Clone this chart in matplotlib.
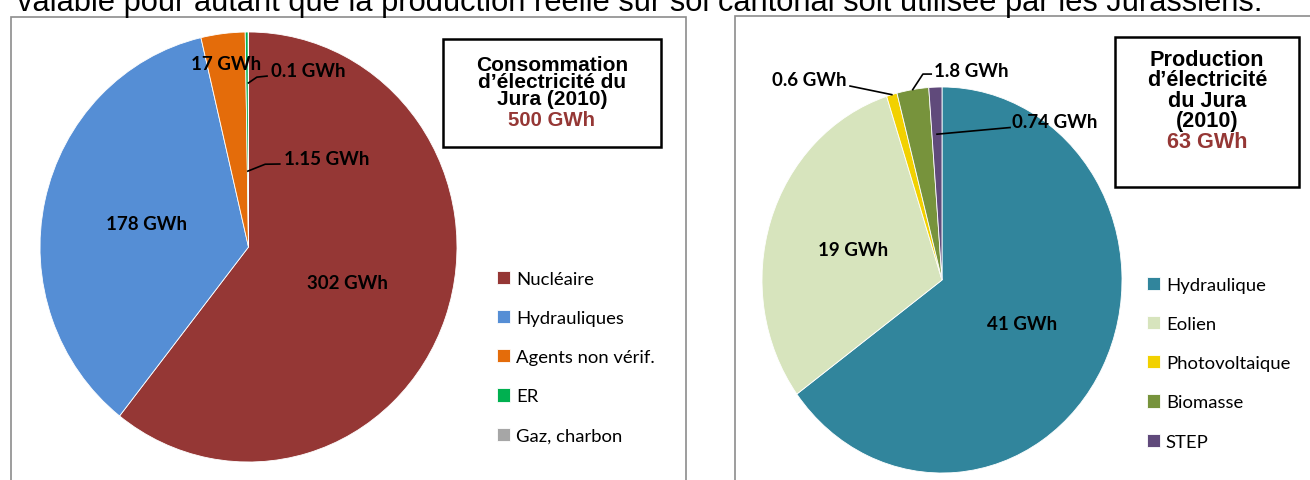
import numpy as np
import matplotlib.pyplot as plt
from matplotlib.patches import Rectangle

# consommation (left pie)
cons_labels = ['Nucléaire', 'Hydrauliques', 'Agents non vérif.', 'ER', 'Gaz, charbon']
cons_values = [302, 178, 17, 1.15, 0.1]
cons_text = ['302 GWh', '178 GWh', '17 GWh', '1.15 GWh', '0.1 GWh']
cons_colors = ['#953735', '#558ED5', '#E46C0A', '#00B050', '#A6A6A6']
cons_title = ['Consommation', 'd’électricité du', 'Jura (2010)']
cons_total = '500 GWh'

# production (right pie)
prod_labels = ['Hydraulique', 'Eolien', 'Photovoltaique', 'Biomasse', 'STEP']
prod_values = [41, 19, 0.6, 1.8, 0.74]
prod_text = ['41 GWh', '19 GWh', '0.6 GWh', '1.8 GWh', '0.74 GWh']
prod_colors = ['#31859C', '#D7E4BD', '#F2D100', '#77933C', '#604A7B']
prod_title = ['Production', 'd’électricité', 'du Jura', '(2010)']
prod_total = '63 GWh'

W, H = 1310, 481


def fx(x):
    return x / W


def fy(y):
    return 1 - y / H


def pie_axes(fig, cx, cy, rx, ry):
    ax = fig.add_axes([fx(cx - rx), fy(cy + ry), 2 * rx / W, 2 * ry / H])
    return ax


def draw_pie(ax, values, colors):
    wedges, _ = ax.pie(values, colors=colors, startangle=90, counterclock=False,
                       radius=1, wedgeprops=dict(edgecolor='white', linewidth=0.6))
    ax.set_aspect('auto')
    ax.set_xlim(-1, 1)
    ax.set_ylim(-1, 1)
    return wedges


def mid_point(w, r):
    a = np.deg2rad((w.theta1 + w.theta2) / 2)
    return r * np.cos(a), r * np.sin(a)


lab_font = dict(family='Lato', fontweight='bold', fontsize=13.5, color='black')
leg_kw = dict(loc='upper left', frameon=False, prop=dict(family='Lato', size=13.3),
              handlelength=0.72, handleheight=0.72, handletextpad=0.3,
              labelspacing=1.25, borderaxespad=0, borderpad=0)
tfont = dict(family='Liberation Sans', fontweight='bold', ha='center')

fig = plt.figure(figsize=(W / 100, H / 100), dpi=100)

# chart frames
fig.patches.append(Rectangle((fx(11), fy(500)), fx(686 - 11), (500 - 18) / H,
                             transform=fig.transFigure, fill=False, edgecolor='#8c8c8c', lw=1.2))
fig.patches.append(Rectangle((fx(735), fy(500)), fx(600), (500 - 17) / H,
                             transform=fig.transFigure, fill=False, edgecolor='#8c8c8c', lw=1.2))

# cut-off line of text at the top
fig.text(fx(17), fy(11), 'valable pour autant que la production réelle sur sol cantonal soit utilisée par les Jurassiens.',
         family='Liberation Sans', fontsize=22.2, ha='left', va='baseline')

# ---- left pie
ax1 = pie_axes(fig, 248.5, 248, 208.5, 215)
w1 = draw_pie(ax1, cons_values, cons_colors)
inside1 = {0: 0.5, 1: 0.5, 2: 0.86}
for i, r in inside1.items():
    x, y = mid_point(w1[i], r)
    ax1.text(x, y, cons_text[i], ha='center', va='center', **lab_font)
# leader labels: anchor radius, elbow, end of line, text position
lead1 = {3: (0.353, (0.08, 0.385), (0.15, 0.386), (0.168, 0.41)),
         4: (0.763, (0.04, 0.79), (0.089, 0.795), (0.11, 0.82))}
for i, (r, p1, p2, t) in lead1.items():
    x0, y0 = mid_point(w1[i], r)
    ax1.plot([x0, p1[0], p2[0]], [y0, p1[1], p2[1]], color='black', lw=1.2, clip_on=False)
    ax1.text(t[0], t[1], cons_text[i], ha='left', va='center', **lab_font)

fig.legend(w1, cons_labels, bbox_to_anchor=(fx(497), fy(272)), **leg_kw)

# title box left
fig.patches.append(Rectangle((fx(443), fy(148)), fx(661 - 443), (148 - 40) / H,
                             transform=fig.transFigure, fill=False, edgecolor='black', lw=1.8))
fig.text(fx(552), fy(56), '\n'.join(cons_title), color='black', fontsize=15,
         va='top', linespacing=0.88, multialignment='center', **tfont)
fig.text(fx(552), fy(126), cons_total, color='#953735', fontsize=14.7, va='baseline', **tfont)

# ---- right pie
ax2 = pie_axes(fig, 942, 281, 180, 193)
w2 = draw_pie(ax2, prod_values, prod_colors)
inside2 = {0: 0.5, 1: 0.52}
for i, r in inside2.items():
    x, y = mid_point(w2[i], r)
    ax2.text(x, y, prod_text[i], ha='center', va='center', **lab_font)
lead2 = {2: (1.0, (-0.511, 1.005), (-0.511, 1.005), (-0.53, 1.04), 'right'),
         3: (1.0, (-0.106, 1.067), (-0.06, 1.067), (-0.045, 1.088), 'left'),
         4: (0.756, (0.378, 0.79), (0.378, 0.79), (0.39, 0.82), 'left')}
for i, (r, p1, p2, t, ha) in lead2.items():
    x0, y0 = mid_point(w2[i], r)
    ax2.plot([x0, p1[0], p2[0]], [y0, p1[1], p2[1]], color='black', lw=1.2, clip_on=False)
    ax2.text(t[0], t[1], prod_text[i], ha=ha, va='center', **lab_font)

fig.legend(w2, prod_labels, bbox_to_anchor=(fx(1147), fy(278)), **leg_kw)

# title box right
fig.patches.append(Rectangle((fx(1115), fy(188)), fx(1299 - 1115), (188 - 38) / H,
                             transform=fig.transFigure, fill=False, edgecolor='black', lw=1.8))
fig.text(fx(1207), fy(50), '\n'.join(prod_title), color='black', fontsize=15.6,
         va='top', linespacing=0.96, multialignment='center', **tfont)
fig.text(fx(1207), fy(148), prod_total, color='#953735', fontsize=15.6, va='baseline', **tfont)

fig.savefig('out.png', dpi=100)
